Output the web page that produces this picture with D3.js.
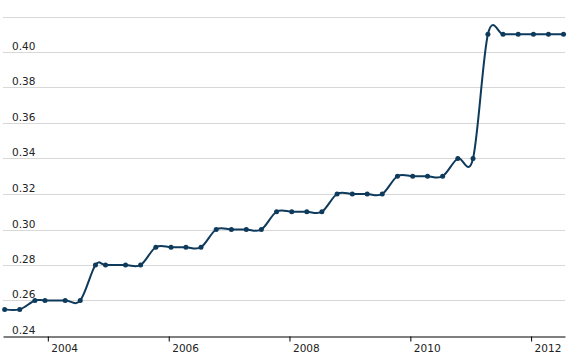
<!DOCTYPE html>
<html lang="en">
<head>
    <meta charset="UTF-8">
    <title>Step line chart</title>
    <style>
        body { margin: 0; background: #fff; }
        text { font-family: "DejaVu Sans", Verdana, sans-serif; font-size: 10.5px; fill: #222; }
    </style>
</head>
<body>
    <script src="https://d3js.org/d3.v7.min.js"></script>
    <script>
        // observation dates and values
        const dates = [
            '2003-04-15', '2003-07-15', '2003-10-15', '2003-12-15',
            '2004-04-15', '2004-07-15', '2004-10-15', '2004-12-15',
            '2005-04-15', '2005-07-15', '2005-10-15',
            '2006-01-15', '2006-04-15', '2006-07-15', '2006-10-15',
            '2007-01-15', '2007-04-15', '2007-07-15', '2007-10-15',
            '2008-01-15', '2008-04-15', '2008-07-15', '2008-10-15',
            '2009-01-15', '2009-04-15', '2009-07-15', '2009-10-15',
            '2010-01-15', '2010-04-15', '2010-07-15', '2010-10-15',
            '2011-01-15', '2011-04-15', '2011-07-15', '2011-10-15',
            '2012-01-15', '2012-04-15', '2012-07-15'
        ];
        const values = [
            0.255, 0.255, 0.26, 0.26,
            0.26, 0.26, 0.28, 0.28,
            0.28, 0.28, 0.29,
            0.29, 0.29, 0.29, 0.30,
            0.30, 0.30, 0.30, 0.31,
            0.31, 0.31, 0.31, 0.32,
            0.32, 0.32, 0.32, 0.33,
            0.33, 0.33, 0.33, 0.34,
            0.34, 0.41, 0.41, 0.41,
            0.41, 0.41, 0.41
        ];
        const gridTicks = [0.26, 0.28, 0.30, 0.32, 0.34, 0.36, 0.38, 0.40, 0.42];
        const yLabels = [0.24, 0.26, 0.28, 0.30, 0.32, 0.34, 0.36, 0.38, 0.40];
        const xTickYears = [2004, 2006, 2008, 2010, 2012];

        const width = 572, height = 362;
        const plotLeft = 3, plotRight = 565, plotTop = 16.5, plotBottom = 336;
        const lineColor = '#0e3a5c';

        const parse = d3.timeParse('%Y-%m-%d');
        const data = dates.map((d, i) => ({ date: parse(d), value: values[i] }));

        const x = d3.scaleTime()
            .domain([new Date(2003, 3, 5), new Date(2012, 6, 24)])
            .range([plotLeft, plotRight]);

        const y = d3.scaleLinear()
            .domain([0.24, 0.42])
            .range([plotBottom, plotTop]);

        const svg = d3.select('body')
            .append('svg')
            .attr('width', width)
            .attr('height', height);

        // gridlines
        svg.append('g')
            .selectAll('line')
            .data(gridTicks)
            .enter()
            .append('line')
            .attr('x1', plotLeft)
            .attr('x2', plotRight)
            .attr('y1', d => Math.round(y(d)) + 0.5)
            .attr('y2', d => Math.round(y(d)) + 0.5)
            .style('stroke', '#d8d8d8')
            .style('stroke-width', 1);

        // y labels sit just above their gridline
        svg.append('g')
            .selectAll('text')
            .data(yLabels)
            .enter()
            .append('text')
            .attr('x', 12)
            .attr('y', d => Math.round(y(d)) - 2)
            .text(d => d3.format('.2f')(d));

        // x axis
        const xAxis = d3.axisBottom(x)
            .tickValues(xTickYears.map(yr => new Date(yr, 0, 1)))
            .tickFormat(d3.timeFormat('%Y'))
            .tickSize(5)
            .tickSizeOuter(0);

        const gx = svg.append('g')
            .attr('transform', `translate(0,${Math.round(plotBottom) + 0.5})`)
            .call(xAxis);
        gx.select('.domain').style('stroke', '#000');
        gx.selectAll('.tick line').style('stroke', '#000');
        gx.selectAll('.tick text')
            .attr('text-anchor', 'start')
            .attr('x', 3)
            .attr('y', 8)
            .style('font-size', '10.5px')
            .style('font-family', '"DejaVu Sans", Verdana, sans-serif')
            .style('fill', '#222');

        // line
        const line = d3.line()
            .x(d => x(d.date))
            .y(d => y(d.value))
            .curve(d3.curveCardinal);

        svg.append('path')
            .datum(data)
            .attr('d', line)
            .style('fill', 'none')
            .style('stroke', lineColor)
            .style('stroke-width', 2);

        svg.append('g')
            .selectAll('circle')
            .data(data)
            .enter()
            .append('circle')
            .attr('cx', d => x(d.date))
            .attr('cy', d => y(d.value))
            .attr('r', 2.5)
            .style('fill', lineColor);
    </script>
</body>
</html>
